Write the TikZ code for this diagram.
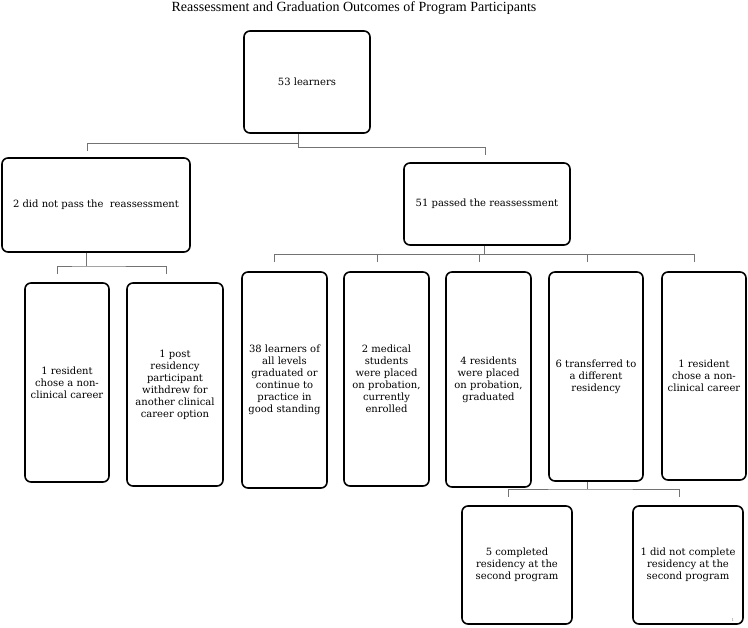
\documentclass[tikz,border=0pt]{standalone}
\usepackage{fontspec}
\setmainfont{DejaVu Serif}
\newfontfamily\titlefont{Liberation Serif}
\begin{document}
\begin{tikzpicture}[x=1pt,y=-1pt,
  box/.style={draw, line width=1.6pt, rounded corners=6pt, align=center,
    font=\fontsize{10}{12}\selectfont, inner sep=2pt},
  conn/.style={draw=black!55, line width=0.9pt}]
\useasboundingbox[fill=white] (0,0) rectangle (748,628);
\node[font=\titlefont\fontsize{14}{16}\selectfont] (title) at (354,8) {Reassessment and Graduation Outcomes of Program Participants};

\node[box, minimum width=126pt, minimum height=102pt] (top) at (307,82) {53 learners};
\node[box, minimum width=188pt, minimum height=94pt] (L) at (96,205) {2 did not pass the~ reassessment};
\node[box, minimum width=166pt, minimum height=82pt] (R) at (487,204) {51 passed the reassessment};

\node[box, minimum width=84pt, minimum height=199pt] (A) at (67,382.5) {1 resident\\chose a non-\\clinical career};
\node[box, minimum width=96pt, minimum height=203pt] (B) at (175,384.5) {1 post\\residency\\participant\\withdrew for\\another clinical\\career option};

\node[box, minimum width=85pt, minimum height=216pt] (c1) at (284.5,380) {38 learners of\\all levels\\graduated or\\continue to\\practice in\\good standing};
\node[box, minimum width=85pt, minimum height=214pt] (c2) at (386.5,379) {2 medical\\students\\were placed\\on probation,\\currently\\enrolled};
\node[box, minimum width=85pt, minimum height=215pt] (c3) at (488.5,379.5) {4 residents\\were placed\\on probation,\\graduated};
\node[box, minimum width=94pt, minimum height=209pt] (c4) at (596,376.5) {6 transferred to\\a different\\residency};
\node[box, minimum width=84pt, minimum height=208pt] (c5) at (704,376) {1 resident\\chose a non-\\clinical career};

\node[box, minimum width=110pt, minimum height=118pt] (d1) at (517,565) {5 completed\\residency at the\\second program};
\node[box, minimum width=110pt, minimum height=118pt] (d2) at (688,565) {1 did not complete\\residency at the\\second program};

\node[font=\fontsize{4}{4}\selectfont, text=black!50, inner sep=0pt] (pg) at (733,620) {1};

% connectors: top
\coordinate (tj) at (298,143);
\coordinate (tl) at (87,151);
\coordinate (tr) at (485,155);
\draw[conn] (top.south -| tj) -- (298,147) -| (tr);
\draw[conn] (tj) -| (tl);
% connectors: L
\coordinate (lj) at (86,266);
\coordinate (la) at (57,274);
\coordinate (lb) at (166,274);
\draw[conn] (L.south -| lj) -- (lj);
\draw[conn] (la) |- (lj) -| (lb);
% connectors: R
\coordinate (rj) at (484,254);
\coordinate (r1) at (274,262);
\coordinate (r2) at (377,262);
\coordinate (r3) at (479,262);
\coordinate (r4) at (587,262);
\coordinate (r5) at (694,262);
\draw[conn] (R.south -| rj) -- (rj);
\draw[conn] (r1) |- (r5 |- rj) -- (r5);
\draw[conn] (r2) -- (r2 |- rj);
\draw[conn] (r3) -- (r3 |- rj);
\draw[conn] (r4) -- (r4 |- rj);
% connectors: c4
\coordinate (cj) at (587,489);
\coordinate (ca) at (508,497);
\coordinate (cb) at (679,497);
\draw[conn] (c4.south -| cj) -- (cj);
\draw[conn] (ca) |- (cj) -| (cb);
\end{tikzpicture}
\end{document}
